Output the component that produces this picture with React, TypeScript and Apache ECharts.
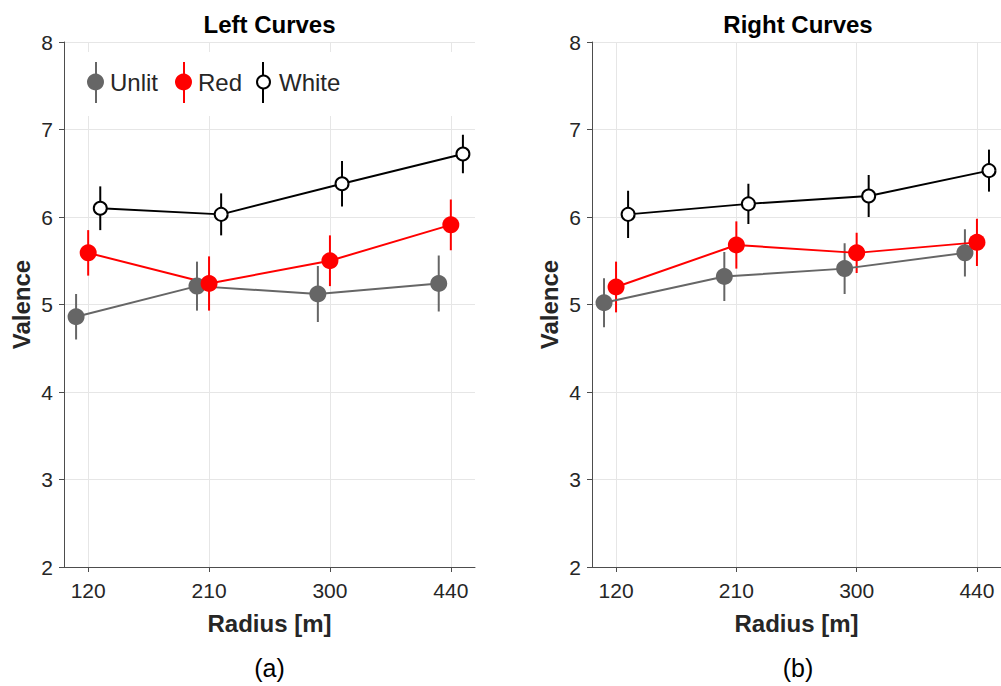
import React, { useEffect, useRef } from 'react';
import * as echarts from 'echarts';

// ---- data ----
const radiusLabels = ['120', '210', '300', '440'];
const groupNames = ['Unlit', 'Red', 'White'];
const panelTitles = ['Left Curves', 'Right Curves'];
const panelCaptions = ['(a)', '(b)'];
const yTicks = [2, 3, 4, 5, 6, 7, 8];

const leftUnlit = [4.86, 5.21, 5.12, 5.24];
const leftUnlitErr = [0.26, 0.28, 0.32, 0.32];
const leftRed = [5.59, 5.24, 5.5, 5.91];
const leftRedErr = [0.26, 0.31, 0.29, 0.29];
const leftWhite = [6.1, 6.03, 6.38, 6.72];
const leftWhiteErr = [0.25, 0.24, 0.26, 0.22];

const rightUnlit = [5.02, 5.32, 5.41, 5.59];
const rightUnlitErr = [0.28, 0.28, 0.29, 0.27];
const rightRed = [5.2, 5.68, 5.59, 5.71];
const rightRedErr = [0.29, 0.27, 0.23, 0.27];
const rightWhite = [6.03, 6.15, 6.24, 6.53];
const rightWhiteErr = [0.27, 0.23, 0.24, 0.24];

const FONT = '"Liberation Sans", Arial, Helvetica, sans-serif';

const STYLE: Record<string, any> = {
  Unlit: { color: '#666666', fill: '#666666', size: 17, border: 0, offset: -0.1 },
  Red: { color: '#ff0000', fill: '#ff0000', size: 17, border: 0, offset: 0 },
  White: { color: '#000000', fill: '#ffffff', size: 13, border: 2, offset: 0.1 },
};

function makeSeries(panel: number, name: string, values: number[], errs: number[]) {
  const st = STYLE[name];
  const pts = values.map((v, i) => [i + 1 + st.offset, v, errs[i]]);
  return [
    {
      type: 'custom',
      name: name + ' error',
      xAxisIndex: panel,
      yAxisIndex: panel,
      silent: true,
      data: pts,
      encode: { x: 0, y: 1 },
      renderItem: (_p: any, api: any) => {
        const x = api.value(0);
        const y = api.value(1);
        const e = api.value(2);
        const a = api.coord([x, y - e]);
        const b = api.coord([x, y + e]);
        return {
          type: 'line',
          shape: { x1: a[0], y1: a[1], x2: b[0], y2: b[1] },
          style: { stroke: st.color, lineWidth: 2 },
        };
      },
    },
    {
      type: 'line',
      name,
      xAxisIndex: panel,
      yAxisIndex: panel,
      silent: true,
      data: pts.map((p) => [p[0], p[1]]),
      symbol: 'circle',
      symbolSize: st.size,
      showSymbol: true,
      lineStyle: { color: st.color, width: 2 },
      itemStyle: { color: st.fill, borderColor: st.color, borderWidth: st.border },
      emphasis: { disabled: true },
    },
  ];
}

const grids = [
  { left: 64, right: 526, top: 42, bottom: 119 },
  { left: 592, right: -3, top: 42, bottom: 119 },
];
const centers = [269.5, 798];

export default function App() {
  const ref = useRef<HTMLDivElement>(null);
  useEffect(() => {
    if (!ref.current) return;
    const chart = echarts.init(ref.current, undefined, { renderer: 'svg' });
    const axisColor = '#4d4d4d';
    const tickValues = radiusLabels.map((_, i) => i + 1);
    const option: any = {
      animation: false,
      backgroundColor: '#ffffff',
      textStyle: { fontFamily: FONT },
      title: [
        ...panelTitles.map((t, i) => ({
          text: t,
          left: centers[i],
          top: 12,
          textAlign: 'center',
          padding: 0,
          textStyle: { fontSize: 24, fontWeight: 'bold', color: '#000', fontFamily: FONT },
        })),
        ...panelCaptions.map((t, i) => ({
          text: t,
          left: centers[i],
          top: 655,
          textAlign: 'center',
          padding: 0,
          textStyle: { fontSize: 25, fontWeight: 'normal', color: '#000', fontFamily: FONT },
        })),
      ],
      grid: grids.map((g) => ({ ...g, containLabel: false })),
      xAxis: grids.map((_, i) => ({
        type: 'value',
        gridIndex: i,
        min: 0.8,
        max: 4.2,
        name: 'Radius [m]',
        nameLocation: 'middle',
        nameGap: 44,
        nameTextStyle: { fontSize: 24, fontWeight: 'bold', color: '#262626', fontFamily: FONT },
        axisLine: { show: true, onZero: false, lineStyle: { color: axisColor, width: 1 } },
        axisTick: { show: true, customValues: tickValues, length: 5, lineStyle: { color: axisColor } },
        axisLabel: {
          customValues: tickValues,
          formatter: (v: number) => radiusLabels[Math.round(v) - 1] ?? '',
          fontSize: 21,
          color: '#262626',
          margin: 13,
          fontFamily: FONT,
        },
        splitLine: { show: true, lineStyle: { color: '#e6e6e6', width: 1 } },
      })),
      yAxis: grids.map((_, i) => ({
        type: 'value',
        gridIndex: i,
        min: yTicks[0],
        max: yTicks[yTicks.length - 1],
        interval: 1,
        name: 'Valence',
        nameLocation: 'middle',
        nameGap: 31,
        nameTextStyle: { fontSize: 24, fontWeight: 'bold', color: '#262626', fontFamily: FONT },
        axisLine: { show: true, lineStyle: { color: axisColor, width: 1 } },
        axisTick: { show: true, length: 5, lineStyle: { color: axisColor } },
        axisLabel: { fontSize: 21, color: '#262626', margin: 11, fontFamily: FONT },
        splitLine: { show: true, lineStyle: { color: '#e6e6e6', width: 1 } },
      })),
      legend: groupNames.map((n, i) => ({
        data: [{ name: n, icon: 'circle' }],
        left: [87, 175, 256][i],
        top: 70,
        padding: 0,
        itemWidth: STYLE[n].size,
        itemHeight: STYLE[n].size,
        selectedMode: false,
        textStyle: {
          fontSize: 24,
          color: '#262626',
          fontFamily: FONT,
          padding: [0, 0, 0, [1, 1, 4][i]],
        },
      })),
      graphic: [
        { type: 'rect', shape: { x: 65, y: 52, width: 409, height: 64 }, style: { fill: '#ffffff' }, z: 1, silent: true },
        ...[96, 184, 263].map((x, i) => ({
          type: 'line',
          shape: { x1: x, y1: 62, x2: x, y2: 103 },
          style: { stroke: STYLE[groupNames[i]].color, lineWidth: 2 },
          z: 3,
          silent: true,
        })),
      ],
      series: [
        ...makeSeries(0, 'Unlit', leftUnlit, leftUnlitErr),
        ...makeSeries(0, 'Red', leftRed, leftRedErr),
        ...makeSeries(0, 'White', leftWhite, leftWhiteErr),
        ...makeSeries(1, 'Unlit', rightUnlit, rightUnlitErr),
        ...makeSeries(1, 'Red', rightRed, rightRedErr),
        ...makeSeries(1, 'White', rightWhite, rightWhiteErr),
      ],
    };
    chart.setOption(option);
    return () => chart.dispose();
  }, []);
  return (
    <div
      ref={ref}
      style={{ position: 'fixed', left: 0, top: 0, width: 1001, height: 686, background: '#fff' }}
    />
  );
}
